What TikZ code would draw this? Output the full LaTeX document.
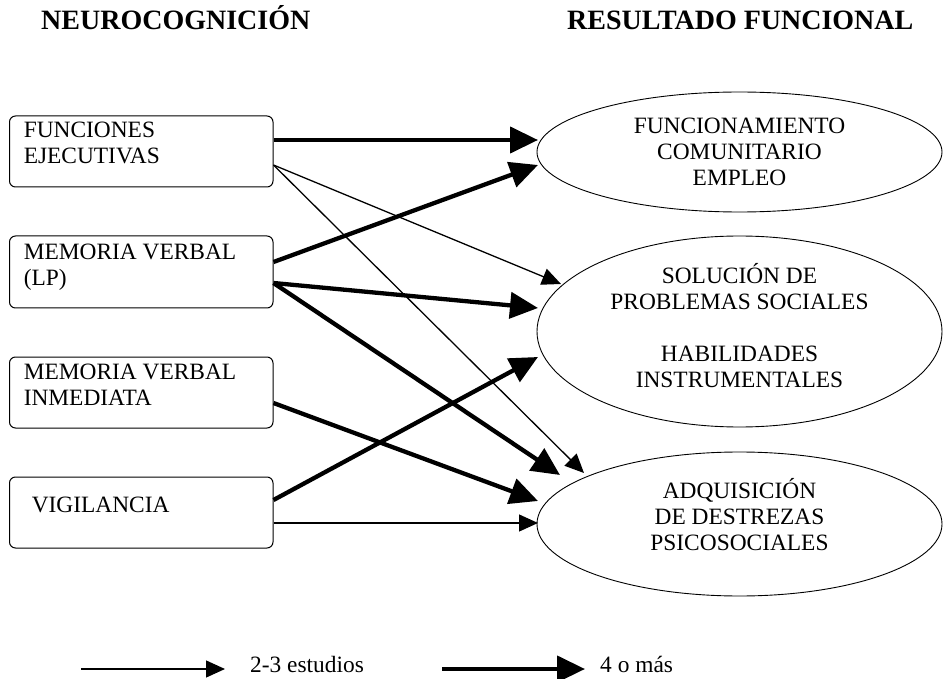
\documentclass[tikz,border=0pt]{standalone}
\usepackage{fontspec}
\setmainfont{Liberation Serif}
\usetikzlibrary{arrows.meta,shapes.geometric}
\newcommand{\bodyfont}{\fontsize{23.4}{26}\selectfont}
\newcommand{\titlefont}{\fontsize{28}{32}\selectfont\bfseries}
\newcommand{\boxtext}[2][5.5pt]{\makebox[235pt][l]{\raisebox{#1}[\height][\depth]{\begin{tabular}{@{}l@{}}#2\end{tabular}}}}
\newcommand{\ovaltext}[2][0pt]{\raisebox{#1}[\height][\depth]{\begin{tabular}{@{}c@{}}#2\end{tabular}}}
\begin{document}
\begin{tikzpicture}[x=1pt,y=-1pt,
  box/.style={draw, line width=1pt, rounded corners=6pt, minimum width=263.5pt, inner sep=0pt, font=\bodyfont},
  oval/.style={draw, ellipse, line width=0.9pt, inner sep=0pt, minimum width=405pt, font=\bodyfont},
  title/.style={anchor=base west, inner sep=0pt, font=\titlefont},
  legendtext/.style={anchor=base west, inner sep=0pt, font=\bodyfont},
  heavyarrow/.style={line width=4.3pt, -{Triangle[length=28pt,width=26pt]}},
  lightarrow/.style={line width=1.3pt, -{Triangle[length=19pt,width=17pt]}},
]
\path[fill=white, use as bounding box] (0,0) rectangle (943,679);

% titles
\node[title] (tl) at (41,30) {NEUROCOGNICIÓN};
\node[title] (tr) at (567,30) {RESULTADO FUNCIONAL};

% left boxes
\node[box, minimum height=71pt] (f1) at (141.25,151.5) {\boxtext[5.7pt]{FUNCIONES\\EJECUTIVAS}};
\node[box, minimum height=72pt] (f2) at (141.25,272) {\boxtext[4.2pt]{MEMORIA VERBAL\\(LP)}};
\node[box, minimum height=71pt] (f3) at (141.25,392.5) {\boxtext[5.7pt]{MEMORIA VERBAL\\INMEDIATA}};
\node[box, minimum height=71pt] (f4) at (141.25,512.5) {\boxtext[5.7pt]{\hspace{8pt}VIGILANCIA}};

% right ellipses
\node[oval, minimum height=120pt] (e1) at (739.5,152) {\ovaltext[-2.8pt]{FUNCIONAMIENTO\\COMUNITARIO\\EMPLEO}};
\node[oval, minimum height=191pt] (e2) at (739.5,331.5) {\ovaltext[1.7pt]{SOLUCIÓN DE\\PROBLEMAS SOCIALES\\ \\HABILIDADES\\INSTRUMENTALES}};
\node[oval, minimum height=144pt] (e3) at (739.5,524) {\ovaltext[5.2pt]{ADQUISICIÓN\\DE DESTREZAS\\PSICOSOCIALES}};

% arrow tips
\coordinate (t1) at (538,140);
\coordinate (t2) at (538,165);
\coordinate (t3) at (538,308);
\coordinate (t4) at (560,475);
\coordinate (t5) at (538,501);
\coordinate (t6) at (538,357);
\coordinate (t7) at (561,284);
\coordinate (t8) at (584,473);
\coordinate (t9) at (538,523);

% thin arrows (2-3 studies)
\draw[lightarrow] ([yshift=-13.5pt]f1.east) -- (t7);
\draw[lightarrow] ([yshift=-13.5pt]f1.east) -- (t8);
\draw[lightarrow] ([yshift=-10.5pt]f4.east) -- (t9);

% thick arrows (4 or more)
\draw[heavyarrow] ([yshift=11.5pt]f1.east) -- (t1);
\draw[heavyarrow] ([yshift=10pt]f2.east) -- (t2);
\draw[heavyarrow] ([yshift=-11pt]f2.east) -- (t3);
\draw[heavyarrow] ([yshift=-11pt]f2.east) -- (t4);
\draw[heavyarrow] ([yshift=-10.5pt]f3.east) -- (t5);
\draw[heavyarrow] ([yshift=12.5pt]f4.east) -- (t6);

% legend
\coordinate (la) at (81,669);
\coordinate (lb) at (225,669);
\coordinate (lc) at (442,669);
\coordinate (ld) at (585,669);
\draw[lightarrow] (la) -- (lb);
\node[legendtext] (lt1) at (250,672) {2-3 estudios};
\draw[heavyarrow] (lc) -- (ld);
\node[legendtext] (lt2) at (600,672) {4 o más};
\end{tikzpicture}
\end{document}
